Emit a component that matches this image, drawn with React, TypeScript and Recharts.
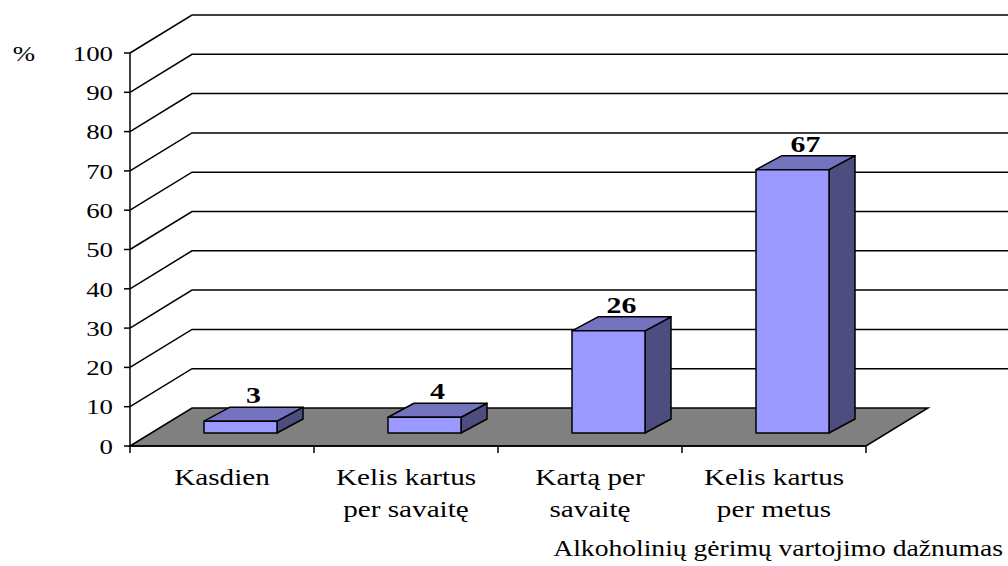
import React from 'react';
import { BarChart, Bar, XAxis, YAxis, CartesianGrid, LabelList } from 'recharts';

const categories = ['Kasdien', 'Kelis kartus per savaitę', 'Kartą per savaitę', 'Kelis kartus per metus'];
const categoryLines = [['Kasdien'], ['Kelis kartus', 'per savaitę'], ['Kartą per', 'savaitę'], ['Kelis kartus', 'per metus']];
const values = [3, 4, 26, 67];
const yTicks = [0, 10, 20, 30, 40, 50, 60, 70, 80, 90, 100];
const yUnit = '%';
const xTitle = 'Alkoholinių gėrimų vartojimo dažnumas';

const data = categories.map((name, i) => ({ name, value: values[i] }));

const FONT = '"Liberation Serif", "Times New Roman", serif';
const SX = 1.27;
const WALL_DX = 62;
const WALL_DY = -38;
const BAR_DX = 18;
const BAR_DY = -13;
const DEPTH_DX = 26;
const DEPTH_DY = -14;
const STROKE = 1.5;

const GridLine = (props: any) => {
  const { x1, y1, x2, index, key } = props;
  const isFloor = index === 0 || Math.abs(y1 - 446) < 1;
  if (isFloor) {
    return (
      <polygon
        key={key ?? `g${index}`}
        points={`${x1},${y1} ${x1 + WALL_DX},${y1 + WALL_DY} ${x2 + WALL_DX},${y1 + WALL_DY} ${x2},${y1}`}
        fill="#808080"
        stroke="#000"
        strokeWidth={STROKE}
        strokeLinejoin="miter"
      />
    );
  }
  return (
    <polyline
      key={key ?? `g${index}`}
      points={`${x1},${y1} ${x1 + WALL_DX},${y1 + WALL_DY} ${x2 + 300},${y1 + WALL_DY}`}
      fill="none"
      stroke="#000"
      strokeWidth={STROKE}
    />
  );
};

const Bar3D = (props: any) => {
  const { x, y, width, height } = props;
  const fx = x + BAR_DX;
  const fy = y + BAR_DY;
  const fb = y + height + BAR_DY;
  return (
    <g stroke="#000" strokeWidth={STROKE} strokeLinejoin="round">
      <polygon
        points={`${fx + width},${fy} ${fx + width + DEPTH_DX},${fy + DEPTH_DY} ${fx + width + DEPTH_DX},${fb + DEPTH_DY} ${fx + width},${fb}`}
        fill="#4D4D80"
      />
      <polygon
        points={`${fx},${fy} ${fx + DEPTH_DX},${fy + DEPTH_DY} ${fx + width + DEPTH_DX},${fy + DEPTH_DY} ${fx + width},${fy}`}
        fill="#7373BF"
      />
      <rect x={fx} y={fy} width={width} height={Math.max(0, fb - fy)} fill="#9999FF" />
    </g>
  );
};

const BarValueLabel = (props: any) => {
  const { x, y, width, value } = props;
  const cx = x + width / 2 + BAR_DX + DEPTH_DX / 2;
  const by = y + BAR_DY + DEPTH_DY - 4;
  return (
    <text
      transform={`translate(${cx},${by}) scale(1.3,1)`}
      textAnchor="middle"
      fontFamily={FONT}
      fontWeight="bold"
      fontSize={23}
      fill="#000"
    >
      {value}
    </text>
  );
};

const YTick = (props: any) => {
  const { x, y, payload } = props;
  return (
    <text
      transform={`translate(${x},${y}) scale(1.22,1)`}
      textAnchor="end"
      dy="0.35em"
      fontFamily={FONT}
      fontSize={22}
      fill="#000"
    >
      {payload.value}
    </text>
  );
};

const XTick = (props: any) => {
  const { x, y, payload, index } = props;
  const half = payload && typeof payload.offset === 'number' && payload.offset > 0 ? payload.offset : 92;
  const lines = categoryLines[index] ?? [String(payload.value)];
  const last = index === categories.length - 1;
  return (
    <g>
      <line x1={x - half} x2={x - half} y1={y} y2={y + 7} stroke="#000" strokeWidth={STROKE} />
      {last && <line x1={x + half} x2={x + half} y1={y} y2={y + 7} stroke="#000" strokeWidth={STROKE} />}
      {lines.map((l: string, i: number) => (
        <text
          key={i}
          transform={`translate(${x},${y + 39 + i * 32}) scale(${SX},1)`}
          textAnchor="middle"
          fontFamily={FONT}
          fontSize={23}
          fill="#000"
        >
          {l}
        </text>
      ))}
    </g>
  );
};

const YUnitLabel = (props: any) => {
  const { viewBox } = props;
  const vx = viewBox?.x ?? 70;
  const vy = viewBox?.y ?? 53;
  return (
    <text
      transform={`translate(${vx - 46},${vy}) scale(1.22,1)`}
      textAnchor="middle"
      dy="0.35em"
      fontFamily={FONT}
      fontSize={22}
      fill="#000"
    >
      {yUnit}
    </text>
  );
};

const XTitleLabel = (props: any) => {
  const { viewBox } = props;
  const vx = viewBox?.x ?? 130;
  const vw = viewBox?.width ?? 736;
  const vy = viewBox?.y ?? 446;
  return (
    <text
      transform={`translate(${vx + vw + 137},${vy + 110}) scale(1.2,1)`}
      textAnchor="end"
      fontFamily={FONT}
      fontSize={23}
      fill="#000"
    >
      {xTitle}
    </text>
  );
};

export default function App() {
  return (
    <div style={{ position: 'absolute', left: 0, top: 0, width: 1008, height: 566, background: '#fff' }}>
      <BarChart
        width={1008}
        height={566}
        data={data}
        margin={{ top: 53, right: 142, bottom: 60, left: 70 }}
        barSize={73}
      >
        <CartesianGrid vertical={false} horizontal={GridLine as any} />
        <XAxis
          dataKey="name"
          height={60}
          axisLine={{ stroke: '#000', strokeWidth: STROKE }}
          tickLine={false}
          tickSize={0}
          tickMargin={0}
          interval={0}
          tick={XTick as any}
          label={XTitleLabel as any}
        />
        <YAxis
          width={60}
          domain={[0, 100]}
          ticks={yTicks}
          interval={0}
          allowDataOverflow
          axisLine={{ stroke: '#000', strokeWidth: STROKE }}
          tickLine={{ stroke: '#000', strokeWidth: STROKE }}
          tickSize={6}
          tickMargin={11}
          tick={YTick as any}
          label={YUnitLabel as any}
        />
        <Bar dataKey="value" shape={Bar3D as any} isAnimationActive={false}>
          <LabelList dataKey="value" content={BarValueLabel as any} />
        </Bar>
      </BarChart>
    </div>
  );
}
